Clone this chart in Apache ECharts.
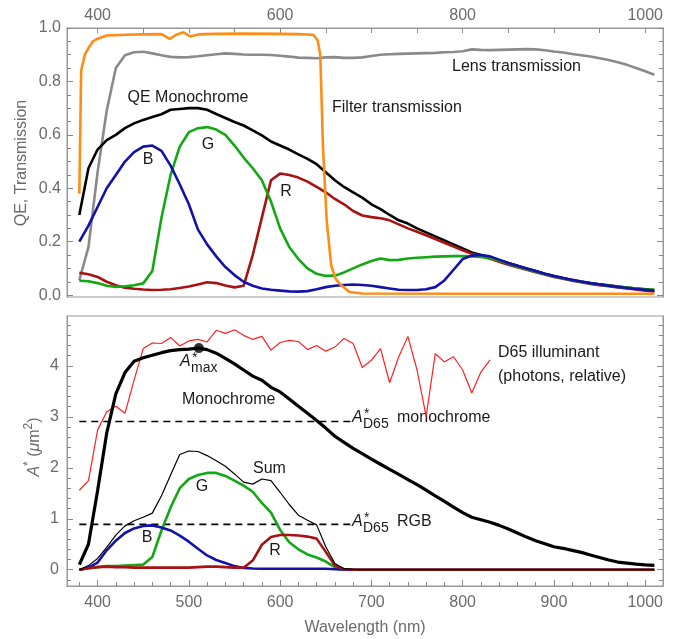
<!DOCTYPE html>
<html>
<head>
<meta charset="utf-8">
<script src="https://cdn.jsdelivr.net/npm/echarts@6/dist/echarts.min.js"></script>
<style>
  html, body { margin: 0; padding: 0; background: #fff; }
  #chart { width: 675px; height: 639px; }
</style>
</head>
<body>
<div id="chart"></div>
<script>
// wavelength grid (nm)
const wl = [380, 390, 400, 410, 420, 430, 440, 450, 460, 470,
  480, 490, 500, 510, 520, 530, 540, 550, 560, 570,
  580, 590, 600, 610, 620, 630, 640, 650, 660, 670,
  680, 690, 700, 710, 720, 730, 740, 750, 760, 770,
  780, 790, 800, 810, 820, 830, 840, 850, 860, 870,
  880, 890, 900, 910, 920, 930, 940, 950, 960, 970,
  980, 990, 1000, 1010]

// top panel: QE and transmission
const qeMono = [0.30, 0.475, 0.545, 0.58, 0.60, 0.625, 0.643, 0.656, 0.667, 0.677,
  0.694, 0.697, 0.70, 0.70, 0.694, 0.678, 0.663, 0.648, 0.635, 0.617,
  0.598, 0.575, 0.56, 0.545, 0.527, 0.51, 0.49, 0.46, 0.43, 0.405,
  0.385, 0.365, 0.34, 0.322, 0.30, 0.28, 0.268, 0.25, 0.235, 0.22,
  0.205, 0.19, 0.175, 0.16, 0.15, 0.14, 0.13, 0.12, 0.11, 0.10,
  0.09, 0.08, 0.072, 0.064, 0.057, 0.05, 0.045, 0.041, 0.037, 0.032,
  0.028, 0.025, 0.022, 0.019]
const qeB = [0.20, 0.26, 0.33, 0.40, 0.45, 0.50, 0.535, 0.556, 0.56, 0.54,
  0.485, 0.415, 0.34, 0.245, 0.19, 0.145, 0.105, 0.075, 0.05, 0.035,
  0.025, 0.02, 0.017, 0.014, 0.013, 0.015, 0.022, 0.03, 0.035, 0.038,
  0.04, 0.038, 0.035, 0.03, 0.025, 0.02, 0.019, 0.019, 0.022, 0.03,
  0.055, 0.095, 0.135, 0.148, 0.15, 0.145, 0.133, 0.12, 0.11, 0.10,
  0.09, 0.08, 0.072, 0.064, 0.057, 0.051, 0.045, 0.04, 0.035, 0.031,
  0.027, 0.023, 0.02, 0.016]
const qeG = [0.054, 0.052, 0.045, 0.035, 0.031, 0.033, 0.037, 0.044, 0.09, 0.29,
  0.45, 0.556, 0.61, 0.625, 0.629, 0.62, 0.60, 0.56, 0.515, 0.475,
  0.43, 0.35, 0.25, 0.18, 0.135, 0.10, 0.08, 0.072, 0.073, 0.085,
  0.10, 0.115, 0.128, 0.137, 0.131, 0.132, 0.137, 0.14, 0.142, 0.144,
  0.145, 0.146, 0.146, 0.145, 0.143, 0.138, 0.13, 0.118, 0.107, 0.097,
  0.088, 0.079, 0.07, 0.063, 0.056, 0.05, 0.044, 0.039, 0.035, 0.031,
  0.028, 0.025, 0.022, 0.02]
const qeR = [0.084, 0.078, 0.068, 0.05, 0.037, 0.028, 0.024, 0.021, 0.019, 0.02,
  0.022, 0.027, 0.032, 0.04, 0.048, 0.045, 0.036, 0.029, 0.035, 0.15,
  0.29, 0.43, 0.455, 0.45, 0.44, 0.425, 0.405, 0.385, 0.36, 0.34,
  0.315, 0.298, 0.292, 0.288, 0.28, 0.265, 0.25, 0.237, 0.224, 0.21,
  0.196, 0.182, 0.168, 0.155, 0.146, 0.136, 0.125, 0.114, 0.104, 0.095,
  0.086, 0.077, 0.068, 0.061, 0.054, 0.048, 0.042, 0.037, 0.033, 0.029,
  0.025, 0.021, 0.017, 0.014]
const lensT = [0.056, 0.18, 0.46, 0.69, 0.85, 0.898, 0.909, 0.911, 0.905, 0.898,
  0.892, 0.89, 0.891, 0.894, 0.898, 0.902, 0.905, 0.903, 0.901, 0.90,
  0.90, 0.899, 0.896, 0.893, 0.889, 0.888, 0.887, 0.89, 0.891, 0.888,
  0.888, 0.89, 0.895, 0.90, 0.902, 0.903, 0.904, 0.905, 0.906, 0.907,
  0.909, 0.91, 0.913, 0.92, 0.918, 0.917, 0.918, 0.919, 0.92, 0.921,
  0.92, 0.917, 0.912, 0.908, 0.903, 0.898, 0.893, 0.887, 0.88, 0.872,
  0.862, 0.85, 0.838, 0.825]
const filterWl = [380, 382, 386, 390, 395, 400, 410, 430, 450, 470, 479, 487, 494, 502, 510,
  530, 560, 600, 620, 636, 641, 644, 647, 651, 656, 661, 666, 676, 690, 800, 1010]
const filterT = [0.38, 0.84, 0.90, 0.925, 0.95, 0.96, 0.972, 0.975, 0.976, 0.977, 0.959, 0.976, 0.984, 0.968, 0.976,
  0.978, 0.979, 0.978, 0.977, 0.975, 0.955, 0.90, 0.55, 0.28, 0.11, 0.06, 0.04, 0.012, 0.006, 0.005, 0.005]

// bottom panel: A* (um^2)
const aMono = [0.10, 0.50, 1.55, 2.68, 3.45, 3.87, 4.09, 4.16, 4.21, 4.26,
  4.30, 4.32, 4.33, 4.35, 4.32, 4.25, 4.15, 4.04, 3.92, 3.80,
  3.72, 3.58, 3.49, 3.35, 3.21, 3.07, 2.93, 2.78, 2.62, 2.50,
  2.38, 2.28, 2.17, 2.07, 1.97, 1.87, 1.77, 1.67, 1.56, 1.45,
  1.34, 1.23, 1.12, 1.03, 0.98, 0.93, 0.87, 0.80, 0.72, 0.64,
  0.57, 0.51, 0.45, 0.42, 0.38, 0.34, 0.29, 0.24, 0.19, 0.15,
  0.13, 0.11, 0.095, 0.085]
const aSum = [0.0, 0.08, 0.22, 0.44, 0.68, 0.86, 0.96, 1.03, 1.11, 1.45,
  1.86, 2.26, 2.33, 2.32, 2.24, 2.14, 2.03, 1.88, 1.72, 1.68,
  1.78, 1.75, 1.52, 1.28, 1.07, 0.97, 0.88, 0.45, 0.12, 0.02,
  0.005, 0, 0, 0, 0, 0, 0, 0, 0, 0,
  0, 0, 0, 0, 0, 0, 0, 0, 0, 0,
  0, 0, 0, 0, 0, 0, 0, 0, 0, 0,
  0, 0, 0, 0]
const aB = [0.0, 0.04, 0.14, 0.38, 0.57, 0.72, 0.81, 0.86, 0.87, 0.83,
  0.77, 0.67, 0.55, 0.41, 0.28, 0.19, 0.13, 0.07, 0.035, 0.025,
  0.02, 0.02, 0.02, 0.02, 0.02, 0.02, 0.02, 0.02, 0.01, 0.0,
  0, 0, 0, 0, 0, 0, 0, 0, 0, 0,
  0, 0, 0, 0, 0, 0, 0, 0, 0, 0,
  0, 0, 0, 0, 0, 0, 0, 0, 0, 0,
  0, 0, 0, 0]
const aG = [0.0, 0.03, 0.05, 0.07, 0.07, 0.08, 0.09, 0.10, 0.25, 0.77,
  1.22, 1.60, 1.78, 1.86, 1.90, 1.90, 1.84, 1.75, 1.65, 1.53,
  1.31, 1.12, 0.78, 0.54, 0.40, 0.30, 0.24, 0.16, 0.05, 0.01,
  0, 0, 0, 0, 0, 0, 0, 0, 0, 0,
  0, 0, 0, 0, 0, 0, 0, 0, 0, 0,
  0, 0, 0, 0, 0, 0, 0, 0, 0, 0,
  0, 0, 0, 0]
const aR = [0.0, 0.03, 0.05, 0.06, 0.05, 0.05, 0.04, 0.04, 0.04, 0.04,
  0.04, 0.04, 0.04, 0.05, 0.06, 0.06, 0.05, 0.04, 0.04, 0.18,
  0.49, 0.64, 0.68, 0.68, 0.67, 0.65, 0.61, 0.35, 0.08, 0.01,
  0, 0, 0, 0, 0, 0, 0, 0, 0, 0,
  0, 0, 0, 0, 0, 0, 0, 0, 0, 0,
  0, 0, 0, 0, 0, 0, 0, 0, 0, 0,
  0, 0, 0, 0]
// D65 photons (relative), 380..830 nm
const d65 = [1.56, 1.75, 2.74, 3.10, 3.21, 3.07, 3.72, 4.34, 4.45, 4.44,
  4.56, 4.39, 4.49, 4.52, 4.47, 4.70, 4.64, 4.71, 4.60, 4.52,
  4.58, 4.31, 4.46, 4.50, 4.48, 4.32, 4.40, 4.29, 4.37, 4.54,
  4.44, 3.97, 4.11, 4.34, 3.67, 4.18, 4.58, 3.92, 3.01, 4.24,
  4.08, 4.18, 3.92, 3.47, 3.88, 4.12]
const dashWl = [380, 677]
const aD65Mono = 2.91
const aD65Rgb = 0.89
const aMaxWl = 511
const aMaxVal = 4.35

// ticks
const topXLabels = [400, 600, 800, 1000]
const topXTicks = [400, 450, 500, 550, 600, 650, 700, 750, 800, 850, 900, 950, 1000]
const botXMajor = [400, 500, 600, 700, 800, 900, 1000]
const botXMinor = [380, 420, 440, 460, 480, 520, 540, 560, 580, 620, 640, 660, 680,
  720, 740, 760, 780, 820, 840, 860, 880, 920, 940, 960, 980]
const topYMajor = [0, 0.2, 0.4, 0.6, 0.8, 1.0]
const topYMinor = [0.05, 0.1, 0.15, 0.25, 0.3, 0.35, 0.45, 0.5, 0.55, 0.65, 0.7, 0.75, 0.85, 0.9, 0.95]
const botYMajor = [0, 1, 2, 3, 4]
const botYMinor = [-0.2, 0.2, 0.4, 0.6, 0.8, 1.2, 1.4, 1.6, 1.8, 2.2, 2.4, 2.6, 2.8,
  3.2, 3.4, 3.6, 3.8, 4.2, 4.4, 4.6, 4.8]

const FONT = 'Liberation Sans, Arial, sans-serif'
const frameColor = '#999999'
const tickColor = '#888888'
const tickLabelColor = '#6b6b6b'
const textColor = '#1a1a1a'
const X_MIN = 366.5, X_MAX = 1019.5

const pairs = (xs, ys) => ys.map((v, i) => [xs[i], v])

function tickAxis(gridIndex, position, min, max, ticks, len, labels, fmt, margin) {
  return {
    type: 'value', gridIndex, position, min, max,
    axisLine: { show: true, onZero: false, lineStyle: { color: frameColor, width: 1 } },
    splitLine: { show: false },
    axisTick: { show: true, inside: true, length: len, customValues: ticks,
      lineStyle: { color: tickColor, width: 1 } },
    axisLabel: labels
      ? { show: true, customValues: labels, formatter: fmt, color: tickLabelColor,
          fontSize: 16, fontFamily: FONT, margin: margin == null ? 7 : margin }
      : { show: false }
  }
}

function line(name, data, color, width, xi, yi, extra) {
  return Object.assign({
    name, type: 'line', data, xAxisIndex: xi, yAxisIndex: yi,
    showSymbol: false, symbol: 'none', silent: true,
    lineStyle: { color, width }
  }, extra || {})
}

function label(x, y, text, extra, rotation) {
  return {
    type: 'text', x, y, rotation: rotation || 0, silent: true,
    style: Object.assign({ text, fill: textColor, fontSize: 16, fontFamily: FONT,
      verticalAlign: 'middle', align: 'left' }, extra || {})
  }
}

// A with star superscript and a subscript
function aStar(x, y, sub, tail) {
  const els = [
    label(x, y, 'A', { fontStyle: 'italic' }),
    label(x + 12, y - 4, '*', { fontSize: 14 }),
    label(x + 11, y + 6, sub, { fontSize: 14 })
  ]
  if (tail) els.push(label(x + 45, y, tail))
  return els
}

const chart = echarts.init(document.getElementById('chart'), null, { renderer: 'canvas' })

const option = {
  animation: false,
  backgroundColor: '#fff',
  grid: [
    { left: 67, top: 28, width: 596, height: 269, show: true, borderColor: frameColor,
      borderWidth: 1, backgroundColor: 'transparent', outerBoundsMode: 'none' },
    { left: 67, top: 316, width: 596, height: 270, show: true, borderColor: frameColor,
      borderWidth: 1, backgroundColor: 'transparent', outerBoundsMode: 'none' }
  ],
  xAxis: [
    tickAxis(0, 'top', X_MIN, X_MAX, topXTicks, 5, topXLabels, v => String(v), 4),
    tickAxis(1, 'bottom', X_MIN, X_MAX, botXMajor, 6, botXMajor, v => String(v), 9),
    tickAxis(1, 'bottom', X_MIN, X_MAX, botXMinor, 4, null)
  ],
  yAxis: [
    tickAxis(0, 'left', -0.007, 1.0, topYMajor, 6, topYMajor, v => v.toFixed(1), 6),
    tickAxis(0, 'left', -0.007, 1.0, topYMinor, 4, null),
    tickAxis(0, 'right', -0.007, 1.0, topYMajor, 6, null),
    tickAxis(0, 'right', -0.007, 1.0, topYMinor, 4, null),
    tickAxis(1, 'left', -0.32, 4.98, botYMajor, 6, botYMajor, v => String(v), 8),
    tickAxis(1, 'left', -0.32, 4.98, botYMinor, 4, null),
    tickAxis(1, 'right', -0.32, 4.98, botYMajor, 6, null),
    tickAxis(1, 'right', -0.32, 4.98, botYMinor, 4, null)
  ],
  series: [
    // top panel
    line('Lens transmission', pairs(wl, lensT), '#8a8a8a', 2.6, 0, 0),
    line('QE Monochrome', pairs(wl, qeMono), '#000', 2.6, 0, 0),
    line('R', pairs(wl, qeR), '#a81212', 2.6, 0, 0),
    line('G', pairs(wl, qeG), '#13a813', 2.6, 0, 0),
    line('B', pairs(wl, qeB), '#1212aa', 2.6, 0, 0),
    line('Filter transmission', pairs(filterWl, filterT), '#ff8c14', 2.6, 0, 0),
    // bottom panel
    line('D65', pairs(wl, d65), '#ff2020', 1.2, 1, 4),
    line('A*D65 mono', dashWl.map(w => [w, aD65Mono]), '#000', 1.6, 1, 4,
      { lineStyle: { color: '#000', width: 1.6, type: [7, 5] } }),
    line('A*D65 RGB', dashWl.map(w => [w, aD65Rgb]), '#000', 1.6, 1, 4,
      { lineStyle: { color: '#000', width: 1.6, type: [7, 5] } }),
    line('Monochrome', pairs(wl, aMono), '#000', 3.2, 1, 4),
    line('G', pairs(wl, aG), '#13a813', 2.6, 1, 4),
    line('B', pairs(wl, aB), '#1212aa', 2.6, 1, 4),
    line('R', pairs(wl, aR), '#a81212', 2.6, 1, 4),
    line('Sum', pairs(wl, aSum), '#000', 1.2, 1, 4),
    { type: 'scatter', xAxisIndex: 1, yAxisIndex: 4, data: [[aMaxWl, aMaxVal]],
      symbolSize: 10, itemStyle: { color: '#000' }, silent: true }
  ],
  graphic: [
    // axis titles
    label(22, 163, 'QE, Transmission', { align: 'center', fill: tickLabelColor }, Math.PI / 2),
    {
      type: 'text', x: 35, y: 447, rotation: Math.PI / 2, silent: true,
      style: {
        text: '{i|A}{s|*}{n| (}{i|μ}{n|m}{s|2}{n|)}',
        align: 'center', verticalAlign: 'middle', fill: tickLabelColor,
        fontSize: 16, fontFamily: FONT,
        rich: {
          i: { fontStyle: 'italic', fontSize: 16, fontFamily: FONT, lineHeight: 24, verticalAlign: 'middle', fill: tickLabelColor },
          n: { fontSize: 16, fontFamily: FONT, lineHeight: 24, verticalAlign: 'middle', fill: tickLabelColor },
          s: { fontSize: 12, fontFamily: FONT, lineHeight: 14, verticalAlign: 'top', fill: tickLabelColor }
        }
      }
    },
    label(365, 628, 'Wavelength (nm)', { align: 'center', fill: tickLabelColor }),
    // top panel annotations
    label(188, 98, 'QE Monochrome', { align: 'center' }),
    label(148, 160, 'B', { align: 'center' }),
    label(208, 145, 'G', { align: 'center' }),
    label(286, 192, 'R', { align: 'center' }),
    label(332, 108, 'Filter transmission'),
    label(452, 67, 'Lens transmission'),
    // bottom panel annotations
    ...aStar(180, 362, 'max'),
    label(182, 400, 'Monochrome'),
    label(253, 469, 'Sum'),
    label(202, 487, 'G', { align: 'center' }),
    label(147, 538, 'B', { align: 'center' }),
    label(275, 551, 'R', { align: 'center' }),
    ...aStar(352, 418, 'D65', 'monochrome'),
    ...aStar(352, 522, 'D65', 'RGB'),
    label(498, 353, 'D65 illuminant'),
    label(498, 377, '(photons, relative)')
  ]
}

chart.setOption(option)
</script>
</body>
</html>
